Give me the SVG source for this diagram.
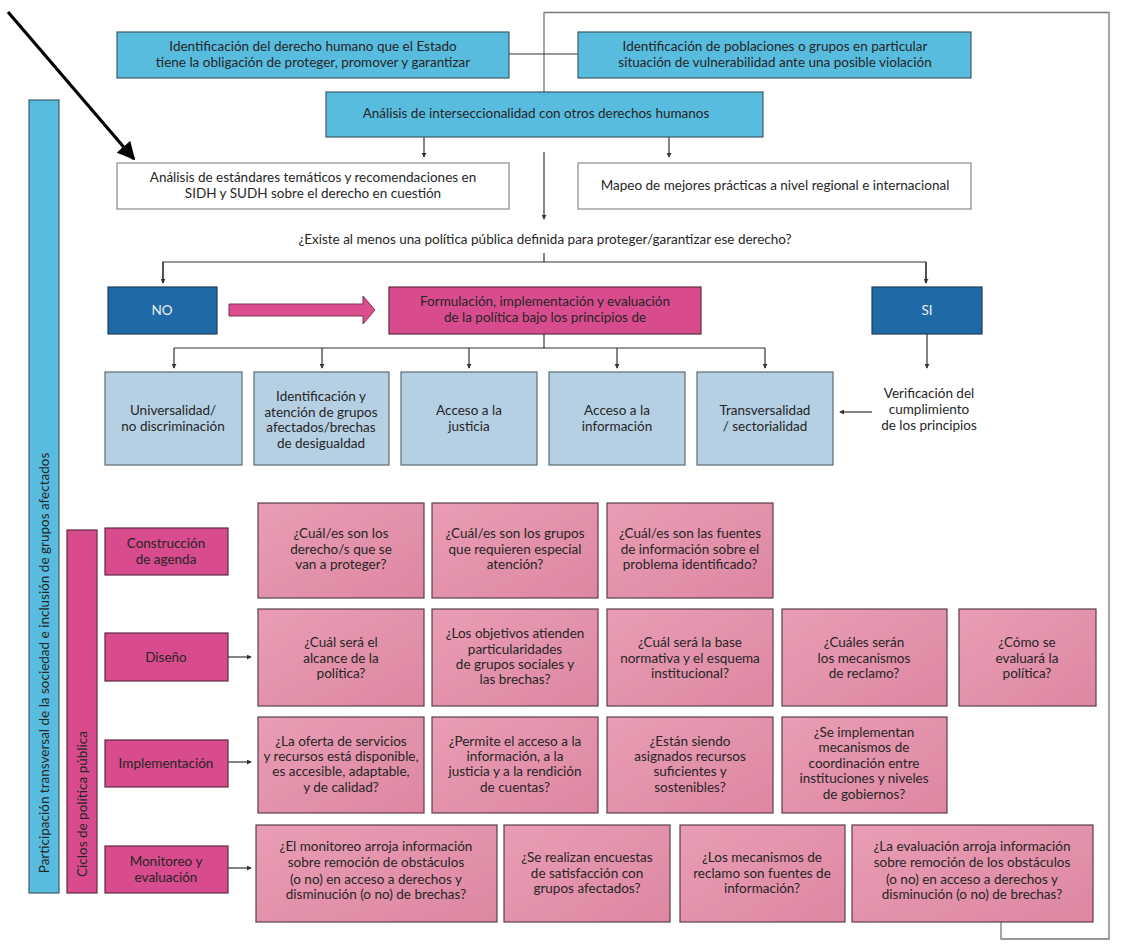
<svg xmlns="http://www.w3.org/2000/svg" width="1131" height="951" viewBox="0 0 1131 951">
<style>
text{font-family:Lato,"Liberation Sans",sans-serif;font-size:13.5px;fill:#262626;text-anchor:middle}
.blue{fill:#58bcdf;stroke:#3c5a6a;stroke-width:1.2}
.white{fill:#ffffff;stroke:#8a8a8a;stroke-width:1.2}
.dark{fill:#1f6aa6;stroke:#1d3f5c;stroke-width:1.2}
.mag{fill:#d84b8c;stroke:#5e2a42;stroke-width:1.2}
.light{fill:#b5cfe3;stroke:#5c6b76;stroke-width:1.2}
.q{fill:url(#qg);stroke:#5a3f48;stroke-width:1.2}
.ln{fill:none;stroke:#333;stroke-width:1.2}
.fr{fill:none;stroke:#777;stroke-width:1.3}
.ar{fill:none;stroke:#333;stroke-width:1.2;marker-end:url(#ah)}
.wt{fill:#ffffff}
</style>
<defs>
<linearGradient id="qg" x1="0" y1="0" x2="1" y2="1">
<stop offset="0" stop-color="#e99db4"/>
<stop offset="1" stop-color="#de87a2"/>
</linearGradient>
<marker id="ah" viewBox="0 0 6 6" refX="5" refY="3" markerWidth="5" markerHeight="5" markerUnits="userSpaceOnUse" orient="auto">
<path d="M0,0 L6,3 L0,6 z" fill="#333"/>
</marker>
<marker id="big" viewBox="0 0 10 10" refX="9" refY="5" markerWidth="18" markerHeight="18" markerUnits="userSpaceOnUse" orient="auto">
<path d="M0,0 L10,5 L0,10 z" fill="#000"/>
</marker>
</defs>
<rect width="1131" height="951" fill="#ffffff"/>

<g id="connectors">
<line x1="8" y1="12" x2="134" y2="159" stroke="#000" stroke-width="3.2" marker-end="url(#big)"/>
<path class="fr" d="M544,92 V12.5 H1109 V939 H1001 V922"/>
<line class="ln" x1="509" y1="54" x2="578" y2="54"/>
<line class="ar" x1="424" y1="137" x2="424" y2="157"/>
<line class="ar" x1="669" y1="137" x2="669" y2="157"/>
<line class="ar" x1="544" y1="152" x2="544" y2="219"/>
<line class="ln" x1="544" y1="253" x2="544" y2="262"/>
<path class="ln" d="M163,283 V262 H926 V283"/>
<line class="ar" x1="163" y1="262" x2="163" y2="283"/>
<line class="ar" x1="926" y1="262" x2="926" y2="283"/>
<polygon points="229,304 363,304 363,296 375,310 363,324 363,316 229,316" fill="#dc4e8d" stroke="#7a3554" stroke-width="1"/>
<line class="ln" x1="544" y1="334" x2="544" y2="348"/>
<line class="ln" x1="174" y1="348" x2="765" y2="348"/>
<line class="ar" x1="174" y1="348" x2="174" y2="368"/>
<line class="ar" x1="322" y1="348" x2="322" y2="368"/>
<line class="ar" x1="469" y1="348" x2="469" y2="368"/>
<line class="ar" x1="617" y1="348" x2="617" y2="368"/>
<line class="ar" x1="765" y1="348" x2="765" y2="368"/>
<line class="ar" x1="927" y1="334" x2="927" y2="368"/>
<line class="ar" x1="872" y1="412" x2="840" y2="412"/>
<line class="ar" x1="228" y1="657" x2="251" y2="657"/>
<line class="ar" x1="228" y1="762" x2="251" y2="762"/>
<line class="ar" x1="228" y1="868" x2="251" y2="868"/>
</g>

<g id="n-derecho"><rect class="blue" x="117" y="32" width="392" height="46"/>
<text x="313" y="51">Identificación del derecho humano que el Estado</text>
<text x="313" y="67">tiene la obligación de proteger,  promover y garantizar</text></g>
<g id="n-poblaciones"><rect class="blue" x="578" y="32" width="393" height="46"/>
<text x="775" y="51">Identificación de poblaciones o grupos en particular</text>
<text x="775" y="67">situación de vulnerabilidad ante una posible violación</text></g>
<g id="n-interseccionalidad"><rect class="blue" x="326" y="92" width="437" height="45"/>
<text x="536" y="118">Análisis de interseccionalidad con otros derechos humanos</text></g>
<g id="n-estandares"><rect class="white" x="117" y="163" width="392" height="46"/>
<text x="313" y="182">Análisis de estándares temáticos y recomendaciones en</text>
<text x="313" y="198">SIDH y SUDH sobre el derecho en cuestión</text></g>
<g id="n-mapeo"><rect class="white" x="578" y="163" width="393" height="46"/>
<text x="775" y="190">Mapeo de mejores prácticas a nivel regional e internacional</text></g>
<g id="n-pregunta"><text x="545" y="244">¿Existe al menos una política pública definida para proteger/garantizar ese derecho?</text></g>

<g id="n-no"><rect class="dark" x="108" y="287" width="109" height="47"/>
<text x="162" y="315" style="fill:#f0f0f0">NO</text></g>
<g id="n-formulacion"><rect class="mag" x="389" y="287" width="312" height="47"/>
<text x="545" y="306">Formulación, implementación y evaluación</text>
<text x="545" y="322">de la política bajo los principios de</text></g>
<g id="n-si"><rect class="dark" x="872" y="287" width="110" height="47"/>
<text x="927" y="315" style="fill:#f0f0f0">SI</text></g>

<g id="n-universalidad"><rect class="light" x="105" y="372" width="137" height="93"/>
<text x="173" y="415">Universalidad/</text><text x="173" y="431">no discriminación</text></g>
<g id="n-identificacion"><rect class="light" x="254" y="372" width="135" height="93"/>
<text x="321" y="401">Identificación y</text><text x="321" y="417">atención de grupos</text><text x="321" y="432">afectados/brechas</text><text x="321" y="448">de desigualdad</text></g>
<g id="n-justicia"><rect class="light" x="401" y="372" width="136" height="93"/>
<text x="469" y="415">Acceso a la</text><text x="469" y="431">justicia</text></g>
<g id="n-informacion"><rect class="light" x="549" y="372" width="136" height="93"/>
<text x="617" y="415">Acceso a la</text><text x="617" y="431">información</text></g>
<g id="n-transversalidad"><rect class="light" x="697" y="372" width="136" height="93"/>
<text x="765" y="415">Transversalidad</text><text x="765" y="431">/ sectorialidad</text></g>
<g id="n-verificacion">
<text x="929" y="398">Verificación del</text><text x="929" y="414">cumplimiento</text><text x="929" y="430">de los principios</text></g>

<g id="n-participacion"><rect class="blue" x="29" y="100" width="30" height="793"/>
<text transform="translate(44,663) rotate(-90)" dominant-baseline="central">Participación transversal de la sociedad e inclusión de grupos afectados</text></g>
<g id="n-ciclos"><rect class="mag" x="67" y="530" width="30" height="363"/>
<text transform="translate(82,804) rotate(-90)" dominant-baseline="central">Ciclos de política pública</text></g>

<g id="n-agenda"><rect class="mag" x="105" y="528" width="123" height="47"/>
<text x="166" y="548">Construcción</text><text x="166" y="564">de agenda</text></g>
<g id="n-diseno"><rect class="mag" x="105" y="633" width="123" height="48"/>
<text x="166" y="662">Diseño</text></g>
<g id="n-implementacion"><rect class="mag" x="105" y="740" width="123" height="47"/>
<text x="166" y="768">Implementación</text></g>
<g id="n-monitoreo"><rect class="mag" x="105" y="846" width="123" height="47"/>
<text x="166" y="866">Monitoreo y</text><text x="166" y="882">evaluación</text></g>

<g id="q1-1"><rect class="q" x="258" y="503" width="166" height="95"/>
<text x="341" y="538">¿Cuál/es son los</text><text x="341" y="554">derecho/s que se</text><text x="341" y="569">van a proteger?</text></g>
<g id="q1-2"><rect class="q" x="432" y="503" width="166" height="95"/>
<text x="515" y="538">¿Cuál/es son los grupos</text><text x="515" y="554">que requieren especial</text><text x="515" y="569">atención?</text></g>
<g id="q1-3"><rect class="q" x="607" y="503" width="166" height="95"/>
<text x="690" y="538">¿Cuál/es son las fuentes</text><text x="690" y="554">de información sobre el</text><text x="690" y="569">problema identificado?</text></g>

<g id="q2-1"><rect class="q" x="258" y="609" width="166" height="97"/>
<text x="341" y="647">¿Cuál será el</text><text x="341" y="663">alcance de la</text><text x="341" y="678">política?</text></g>
<g id="q2-2"><rect class="q" x="432" y="609" width="166" height="97"/>
<text x="515" y="638">¿Los objetivos atienden</text><text x="515" y="654">particularidades</text><text x="515" y="669">de grupos sociales y</text><text x="515" y="684">las brechas?</text></g>
<g id="q2-3"><rect class="q" x="607" y="609" width="166" height="97"/>
<text x="690" y="647">¿Cuál será la base</text><text x="690" y="663">normativa y el esquema</text><text x="690" y="678">institucional?</text></g>
<g id="q2-4"><rect class="q" x="782" y="609" width="165" height="97"/>
<text x="864" y="647">¿Cuáles serán</text><text x="864" y="663">los mecanismos</text><text x="864" y="678">de reclamo?</text></g>
<g id="q2-5"><rect class="q" x="959" y="609" width="137" height="97"/>
<text x="1027" y="647">¿Cómo se</text><text x="1027" y="663">evaluará la</text><text x="1027" y="678">política?</text></g>

<g id="q3-1"><rect class="q" x="258" y="717" width="166" height="96"/>
<text x="341" y="746">¿La oferta de servicios</text><text x="341" y="761">y recursos está disponible,</text><text x="341" y="776">es accesible, adaptable,</text><text x="341" y="792">y de calidad?</text></g>
<g id="q3-2"><rect class="q" x="432" y="717" width="166" height="96"/>
<text x="515" y="746">¿Permite el acceso a la</text><text x="515" y="761">información, a la</text><text x="515" y="776">justicia y a la rendición</text><text x="515" y="792">de cuentas?</text></g>
<g id="q3-3"><rect class="q" x="607" y="717" width="166" height="96"/>
<text x="690" y="746">¿Están siendo</text><text x="690" y="761">asignados recursos</text><text x="690" y="776">suficientes  y</text><text x="690" y="792">sostenibles?</text></g>
<g id="q3-4"><rect class="q" x="782" y="717" width="165" height="96"/>
<text x="864" y="737">¿Se implementan</text><text x="864" y="752">mecanismos de</text><text x="864" y="768">coordinación entre</text><text x="864" y="783">instituciones y niveles</text><text x="864" y="799">de gobiernos?</text></g>

<g id="q4-1"><rect class="q" x="256" y="825" width="241" height="97"/>
<text x="376" y="851">¿El monitoreo arroja información</text><text x="376" y="867">sobre remoción de obstáculos</text><text x="376" y="884">(o no) en acceso a derechos y</text><text x="376" y="899">disminución (o no) de brechas?</text></g>
<g id="q4-2"><rect class="q" x="504" y="825" width="166" height="97"/>
<text x="587" y="862">¿Se realizan encuestas</text><text x="587" y="878">de satisfacción con</text><text x="587" y="893">grupos afectados?</text></g>
<g id="q4-3"><rect class="q" x="680" y="825" width="165" height="97"/>
<text x="762" y="862">¿Los mecanismos de</text><text x="762" y="878">reclamo son fuentes de</text><text x="762" y="893">información?</text></g>
<g id="q4-4"><rect class="q" x="852" y="825" width="241" height="97"/>
<text x="972" y="851">¿La evaluación arroja información</text><text x="972" y="867">sobre remoción de los obstáculos</text><text x="972" y="884">(o no) en acceso a derechos y</text><text x="972" y="899">disminución (o no) de brechas?</text></g>
</svg>
